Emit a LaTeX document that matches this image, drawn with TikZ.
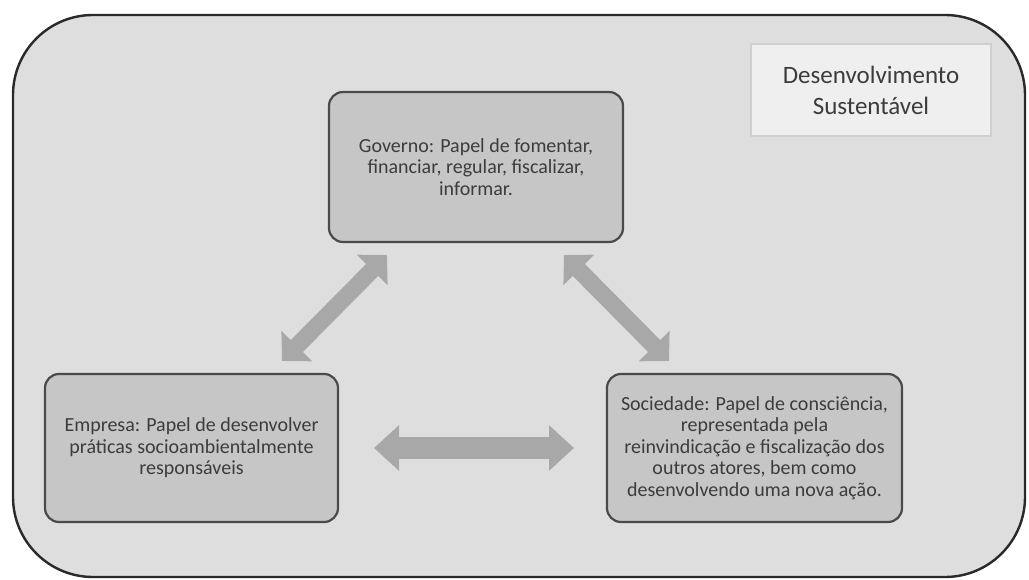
\documentclass[tikz,border=0pt]{standalone}
\usepackage{fontspec}
\setmainfont{Carlito}
\usetikzlibrary{arrows.meta}
\definecolor{outerfill}{HTML}{DEDEDE}
\definecolor{outerline}{HTML}{2A2A2A}
\definecolor{boxfill}{HTML}{C6C6C6}
\definecolor{boxline}{HTML}{4A4A4A}
\definecolor{titlefill}{HTML}{EFEFEF}
\definecolor{titleline}{HTML}{CFCFCF}
\definecolor{arrowgray}{HTML}{A8A8A8}
\definecolor{textgray}{HTML}{3C3C3C}
\tikzset{
  rolebox/.style={draw=boxline, line width=2.2pt, fill=boxfill, rounded corners=14pt,
    align=center, text=textgray, font=\fontsize{20pt}{21.5pt}\selectfont, inner sep=0pt},
  titlebox/.style={draw=titleline, line width=1.2pt, fill=titlefill,
    align=center, text=textgray, font=\fontsize{25pt}{31pt}\selectfont, inner sep=0pt},
  diagarrow/.style={draw=arrowgray, line width=17pt,
    {Triangle[length=21pt,width=42pt]}-{Triangle[length=21pt,width=42pt]}},
  horizarrow/.style={draw=arrowgray, line width=22pt,
    {Triangle[length=25pt,width=44pt]}-{Triangle[length=25pt,width=44pt]}}
}
\begin{document}
\begin{tikzpicture}[x=1pt,y=-1pt]
\useasboundingbox (0,0) rectangle (1029,580);
\fill[white] (0,0) rectangle (1029,580);
% outer frame
\draw[draw=outerline, line width=2.4pt, fill=outerfill, rounded corners=80pt]
  (13,15) rectangle (1025,577);
% title
\node[titlebox, minimum width=240pt, minimum height=92pt] (title) at (871,90)
  {Desenvolvimento\\Sustentável};
% role boxes
\node[rolebox, minimum width=294pt, minimum height=150pt] (gov) at (476,167)
  {Governo: Papel de fomentar,\\financiar, regular, fiscalizar,\\informar.};
\node[rolebox, minimum width=293pt, minimum height=148pt] (emp) at (191.5,448)
  {Empresa: Papel de desenvolver\\práticas socioambientalmente\\responsáveis};
\node[rolebox, minimum width=295pt, minimum height=148pt] (soc) at (754.5,448)
  {Sociedade: Papel de consciência,\\representada pela\\reinvindicação e fiscalização dos\\outros atores, bem como\\desenvolvendo uma nova ação.};
% arrow end points
\coordinate (lt1) at (387,255);
\coordinate (lt2) at (282,361);
\coordinate (rt1) at (564,255);
\coordinate (rt2) at (669,361);
\coordinate (h1) at (374,448);
\coordinate (h2) at (574,448);
\draw[diagarrow] (lt2) -- (lt1);
\draw[diagarrow] (rt1) -- (rt2);
\draw[horizarrow] (h1) -- (h2);
\end{tikzpicture}
\end{document}
